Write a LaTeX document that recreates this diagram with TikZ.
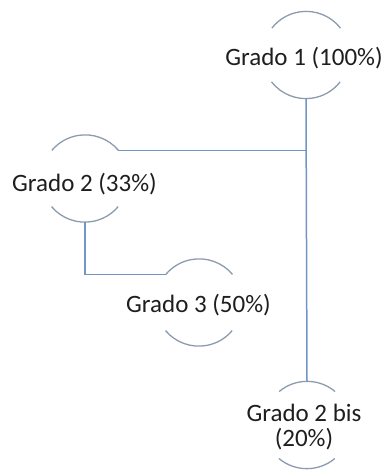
\documentclass[tikz,border=0pt]{standalone}
\usepackage{fontspec}
\setmainfont{Carlito}
\definecolor{linkc}{HTML}{7196C4}
\definecolor{arcc}{HTML}{8C9BAE}
\definecolor{txtc}{HTML}{1E1E1E}
\begin{document}
\begin{tikzpicture}[x=1pt,y=-1pt,
  ring/.style={circle,minimum size=87pt,inner sep=0pt,draw=none},
  lbl/.style={font=\fontsize{25}{25}\selectfont,text=txtc,align=center,inner sep=0pt},
  arcline/.style={draw=arcc,line width=1.3pt},
  link/.style={draw=linkc,line width=1.5pt}]
\useasboundingbox (0,0) rectangle (385,471);
% circle shapes
\node[ring] (c1) at (306,55) {};
\node[ring] (c2) at (85,178.5) {};
\node[ring] (c3) at (199,302.5) {};
\node[ring] (c4) at (307,425) {};
% arcs
\foreach \c/\a in {c1/38,c2/40,c3/40,c4/50}{
  \pgfmathsetmacro{\b}{180-\a}
  \pgfmathsetmacro{\cc}{180+\a}
  \pgfmathsetmacro{\d}{360-\a}
  \draw[arcline] (\c.\a) arc[start angle=\a, end angle=\b, radius=43.5pt];
  \draw[arcline] (\c.\cc) arc[start angle=\cc, end angle=\d, radius=43.5pt];
}
% labels
\node[lbl] (g1) at (304,58) {Grado 1 (100\%)};
\node[lbl] (g2) at (84.5,184) {Grado 2 (33\%)};
\node[lbl] (g3) at (198.5,305) {Grado 3 (50\%)};
\node[lbl] (g4) at (304,427) {Grado 2 bis\\(20\%)};
% connectors
\coordinate (j) at (c1.south |- c2.40);
\draw[link] (c1.south) -- (c4.north);
\draw[link] (c2.40) -- (j);
\draw[link] (c2.south) |- (c3.140);
\end{tikzpicture}
\end{document}
